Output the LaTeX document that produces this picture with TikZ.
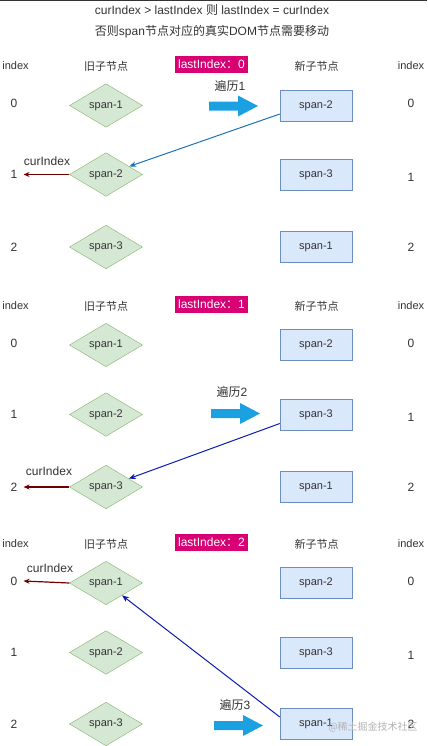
\documentclass[tikz,border=0pt]{standalone}
\usepackage{fontspec}
\setmainfont{Liberation Sans}
\newfontfamily\cjk{Noto Sans CJK SC}
\usetikzlibrary{shapes.geometric,arrows.meta}
\definecolor{txtc}{HTML}{333333}
\definecolor{dfill}{HTML}{D5E8D4}
\definecolor{ddraw}{HTML}{82B366}
\definecolor{rfill}{HTML}{DAE8FC}
\definecolor{rdraw}{HTML}{6C8EBF}
\definecolor{mag}{HTML}{D80073}
\definecolor{bigblue}{HTML}{1BA1E2}
\definecolor{mvone}{HTML}{1A73B8}
\definecolor{mvtwo}{HTML}{0A1DB0}
\definecolor{curred}{HTML}{6F0000}
\tikzset{
  base/.style={inner sep=0, text=txtc, font=\fontsize{11bp}{13bp}\selectfont},
  ttl/.style={base, font=\fontsize{12bp}{14bp}\selectfont},
  hd/.style={base},
  num/.style={base, font=\fontsize{12bp}{14bp}\selectfont},
  lastbox/.style={fill=mag, text=white, inner sep=0, minimum width=73bp, minimum height=17bp, font=\fontsize{12bp}{14bp}\selectfont},
  olddia/.style={diamond, draw=ddraw, fill=dfill, minimum width=73bp, minimum height=42bp, inner sep=0, text=txtc, font=\fontsize{11bp}{13bp}\selectfont},
  newrect/.style={rectangle, draw=rdraw, fill=rfill, minimum width=72bp, minimum height=31bp, inner sep=0, text=txtc, font=\fontsize{11bp}{13bp}\selectfont},
  curlbl/.style={base, font=\fontsize{12bp}{14bp}\selectfont},
  curarrow/.style={draw=curred, line width=1.2bp, -{Stealth[length=6bp,width=5bp]}},
  mvone/.style={draw=mvone, line width=1bp, -{Stealth[length=7bp,width=5.5bp]}},
  mvtwo/.style={draw=mvtwo, line width=1bp, -{Stealth[length=7bp,width=5.5bp]}},
  bigarrow/.style={fill=bigblue},
  travlbl/.style={base, font=\fontsize{12bp}{14bp}\selectfont}
}
\begin{document}
\begin{tikzpicture}[x=1bp,y=-1bp]
\useasboundingbox (0,0) rectangle (427,746);
\draw[line width=1.2bp, txtc] (0,0.6) -- (427,0.6);
\node[ttl] (t1) at (212,10) {curIndex > lastIndex {\cjk 则} lastIndex = curIndex};
\node[ttl] (t2) at (212,32) {{\cjk 否则}span{\cjk 节点对应的真实}DOM{\cjk 节点需要移动}};
\foreach \s/\hy/\ya/\yb/\yc/\li in {1/66/105.5/174.5/247/0, 2/306/345/414.5/487/1, 3/544/583/652.5/724/2}{
  \node[hd] (il\s) at (15.5,\hy) {index};
  \node[hd] (ir\s) at (411,\hy) {index};
  \node[hd] (ho\s) at (106,\hy) {\cjk 旧子节点};
  \node[hd] (hn\s) at (316.5,\hy) {\cjk 新子节点};
  \node[lastbox] (li\s) at (211.5,\hy-1.5) {lastIndex{\cjk ：}\li};
  \node[olddia] (da\s) at (106,\ya) {span-1};
  \node[olddia] (db\s) at (106,\yb) {span-2};
  \node[olddia] (dc\s) at (106,\yc) {span-3};
  \node[newrect] (ra\s) at (316,\ya) {span-2};
  \node[newrect] (rb\s) at (316,\yb) {span-3};
  \node[newrect] (rc\s) at (316,\yc) {span-1};
  \node[num] (la\s) at (14,\ya-2) {0};
  \node[num] (lb\s) at (14,\yb) {1};
  \node[num] (lc\s) at (14,\yc) {2};
  \node[num] (na\s) at (411,\ya-2) {0};
  \node[num] (nb\s) at (411,\yb+2.5) {1};
  \node[num] (nc\s) at (411,\yc) {2};
}
% traversal arrows
\foreach \s/\xa/\xh/\xb/\yc/\lx/\ly in {1/209/238/258/106/230/86, 2/211/240/260/413.5/232/392, 3/214/243/263/725.5/235/705}{
  \fill[bigarrow] (\xa,\yc-4.5) -- (\xh,\yc-4.5) -- (\xh,\yc-10.5) -- (\xb,\yc) -- (\xh,\yc+10.5) -- (\xh,\yc+4.5) -- (\xa,\yc+4.5) -- cycle;
  \node[travlbl] (tv\s) at (\lx,\ly) {{\cjk 遍历}\s};
}
% moves
\draw[mvone] ([yshift=-8.5bp]ra1.west) -- (db1);
\draw[mvtwo] ([yshift=-9bp]rb2.west) -- (dc2);
\draw[mvtwo] ([yshift=7bp]rc3.west) -- (da3);
% curIndex
\draw[curarrow] (db1.west) -- ([xshift=6bp]lb1.east);
\node[curlbl] (c1) at (47,161) {curIndex};
\draw[curarrow] (dc2.west) -- ([xshift=6bp]lc2.east);
\node[curlbl] (c2) at (49,471) {curIndex};
\draw[curarrow] (da3.west) -- ([xshift=6bp]la3.east);
\node[curlbl] (c3) at (50,568) {curIndex};
% watermark
\node[inner sep=0, text=black!30, font=\cjk\fontsize{10bp}{12bp}\selectfont] (wm) at (373,727) {@稀土掘金技术社区};
\end{tikzpicture}
\end{document}
